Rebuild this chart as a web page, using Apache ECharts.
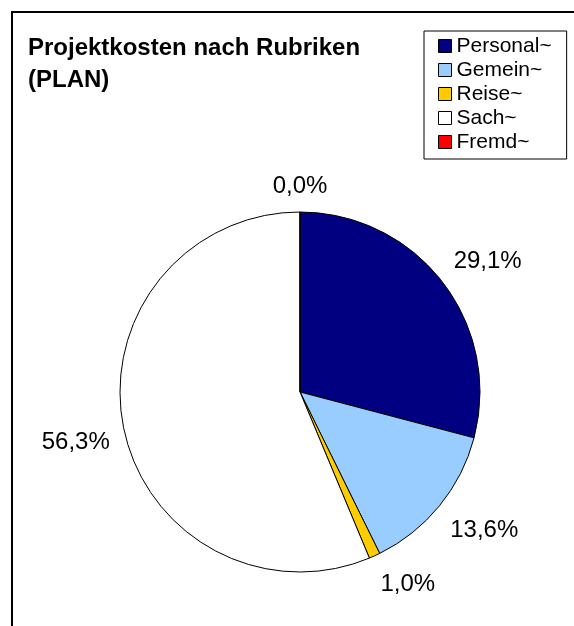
<!DOCTYPE html>
<html>
<head>
<meta charset="utf-8">
<script src="https://cdn.jsdelivr.net/npm/echarts@6/dist/echarts.min.js"></script>
<style>
  html, body { margin: 0; padding: 0; background: #fff; }
  #chart { width: 574px; height: 626px; }
</style>
</head>
<body>
<div id="chart"></div>
<script>
// Rubriken und Planwerte (Prozent)
const categories = ['Personal~', 'Gemein~', 'Reise~', 'Sach~', 'Fremd~']
const shares = [29.1, 13.6, 1.0, 56.3, 0.0]
const colors = ['#000080', '#99ccff', '#ffcc00', '#ffffff', '#ff0000']

const center = [300, 392]
const radius = 180
const labelGap = 14

function side(v) {
  if (Math.abs(v) < 0.05) return 0
  return v > 0 ? 1 : -1
}

let chart = echarts.init(document.getElementById('chart'))
chart.setOption({
  animation: false,
  backgroundColor: '#fff',
  textStyle: { fontFamily: 'Arial, Liberation Sans, sans-serif' },
  graphic: [
    {
      type: 'rect',
      shape: { x: 12, y: 12, width: 700, height: 700 },
      style: { fill: 'none', stroke: '#000', lineWidth: 2 },
      silent: true
    }
  ],
  title: {
    text: 'Projektkosten nach Rubriken\n(PLAN)',
    left: 28,
    top: 32,
    padding: 0,
    textStyle: {
      fontSize: 24,
      fontWeight: 'bold',
      color: '#000',
      lineHeight: 32,
      fontFamily: 'Arial, Liberation Sans, sans-serif'
    }
  },
  legend: {
    orient: 'vertical',
    left: 424,
    top: 31,
    padding: [3, 15, 5, 14],
    borderColor: '#000',
    borderWidth: 1,
    itemWidth: 13,
    itemHeight: 13,
    itemGap: 0,
    itemTextGap: 10,
    icon: 'rect',
    data: categories,
    itemStyle: { borderColor: '#000', borderWidth: 1 },
    textStyle: {
      fontSize: 21,
      lineHeight: 24,
      color: '#000',
      fontFamily: 'Arial, Liberation Sans, sans-serif'
    }
  },
  series: [
    {
      type: 'pie',
      center: center,
      radius: radius,
      startAngle: 90,
      clockwise: true,
      minAngle: 0,
      data: categories.map((name, i) => ({
        name: name,
        value: shares[i],
        itemStyle: { color: colors[i] }
      })),
      itemStyle: { borderColor: '#000', borderWidth: 1 },
      emphasis: { disabled: true },
      label: {
        show: true,
        position: 'inside',
        fontSize: 24,
        color: '#000',
        fontFamily: 'Arial, Liberation Sans, sans-serif',
        formatter: p => p.value.toFixed(1).replace('.', ',') + '%'
      },
      labelLine: { show: false },
      // Beschriftung wie in Excel: Ecke des Textkastens knapp ausserhalb des Kreises
      labelLayout: function (params) {
        let r = params.labelRect
        let cx = r.x + r.width / 2
        let cy = r.y + r.height / 2
        let dx = cx - center[0]
        let dy = cy - center[1]
        let len = Math.sqrt(dx * dx + dy * dy) || 1
        dx /= len
        dy /= len
        let d = radius + labelGap
        return {
          x: center[0] + dx * d + side(dx) * r.width / 2,
          y: center[1] + dy * d + side(dy) * r.height / 2 + (dy > 0.5 ? 4 : 0),
          align: 'center',
          verticalAlign: 'middle'
        }
      }
    }
  ]
})
</script>
</body>
</html>
